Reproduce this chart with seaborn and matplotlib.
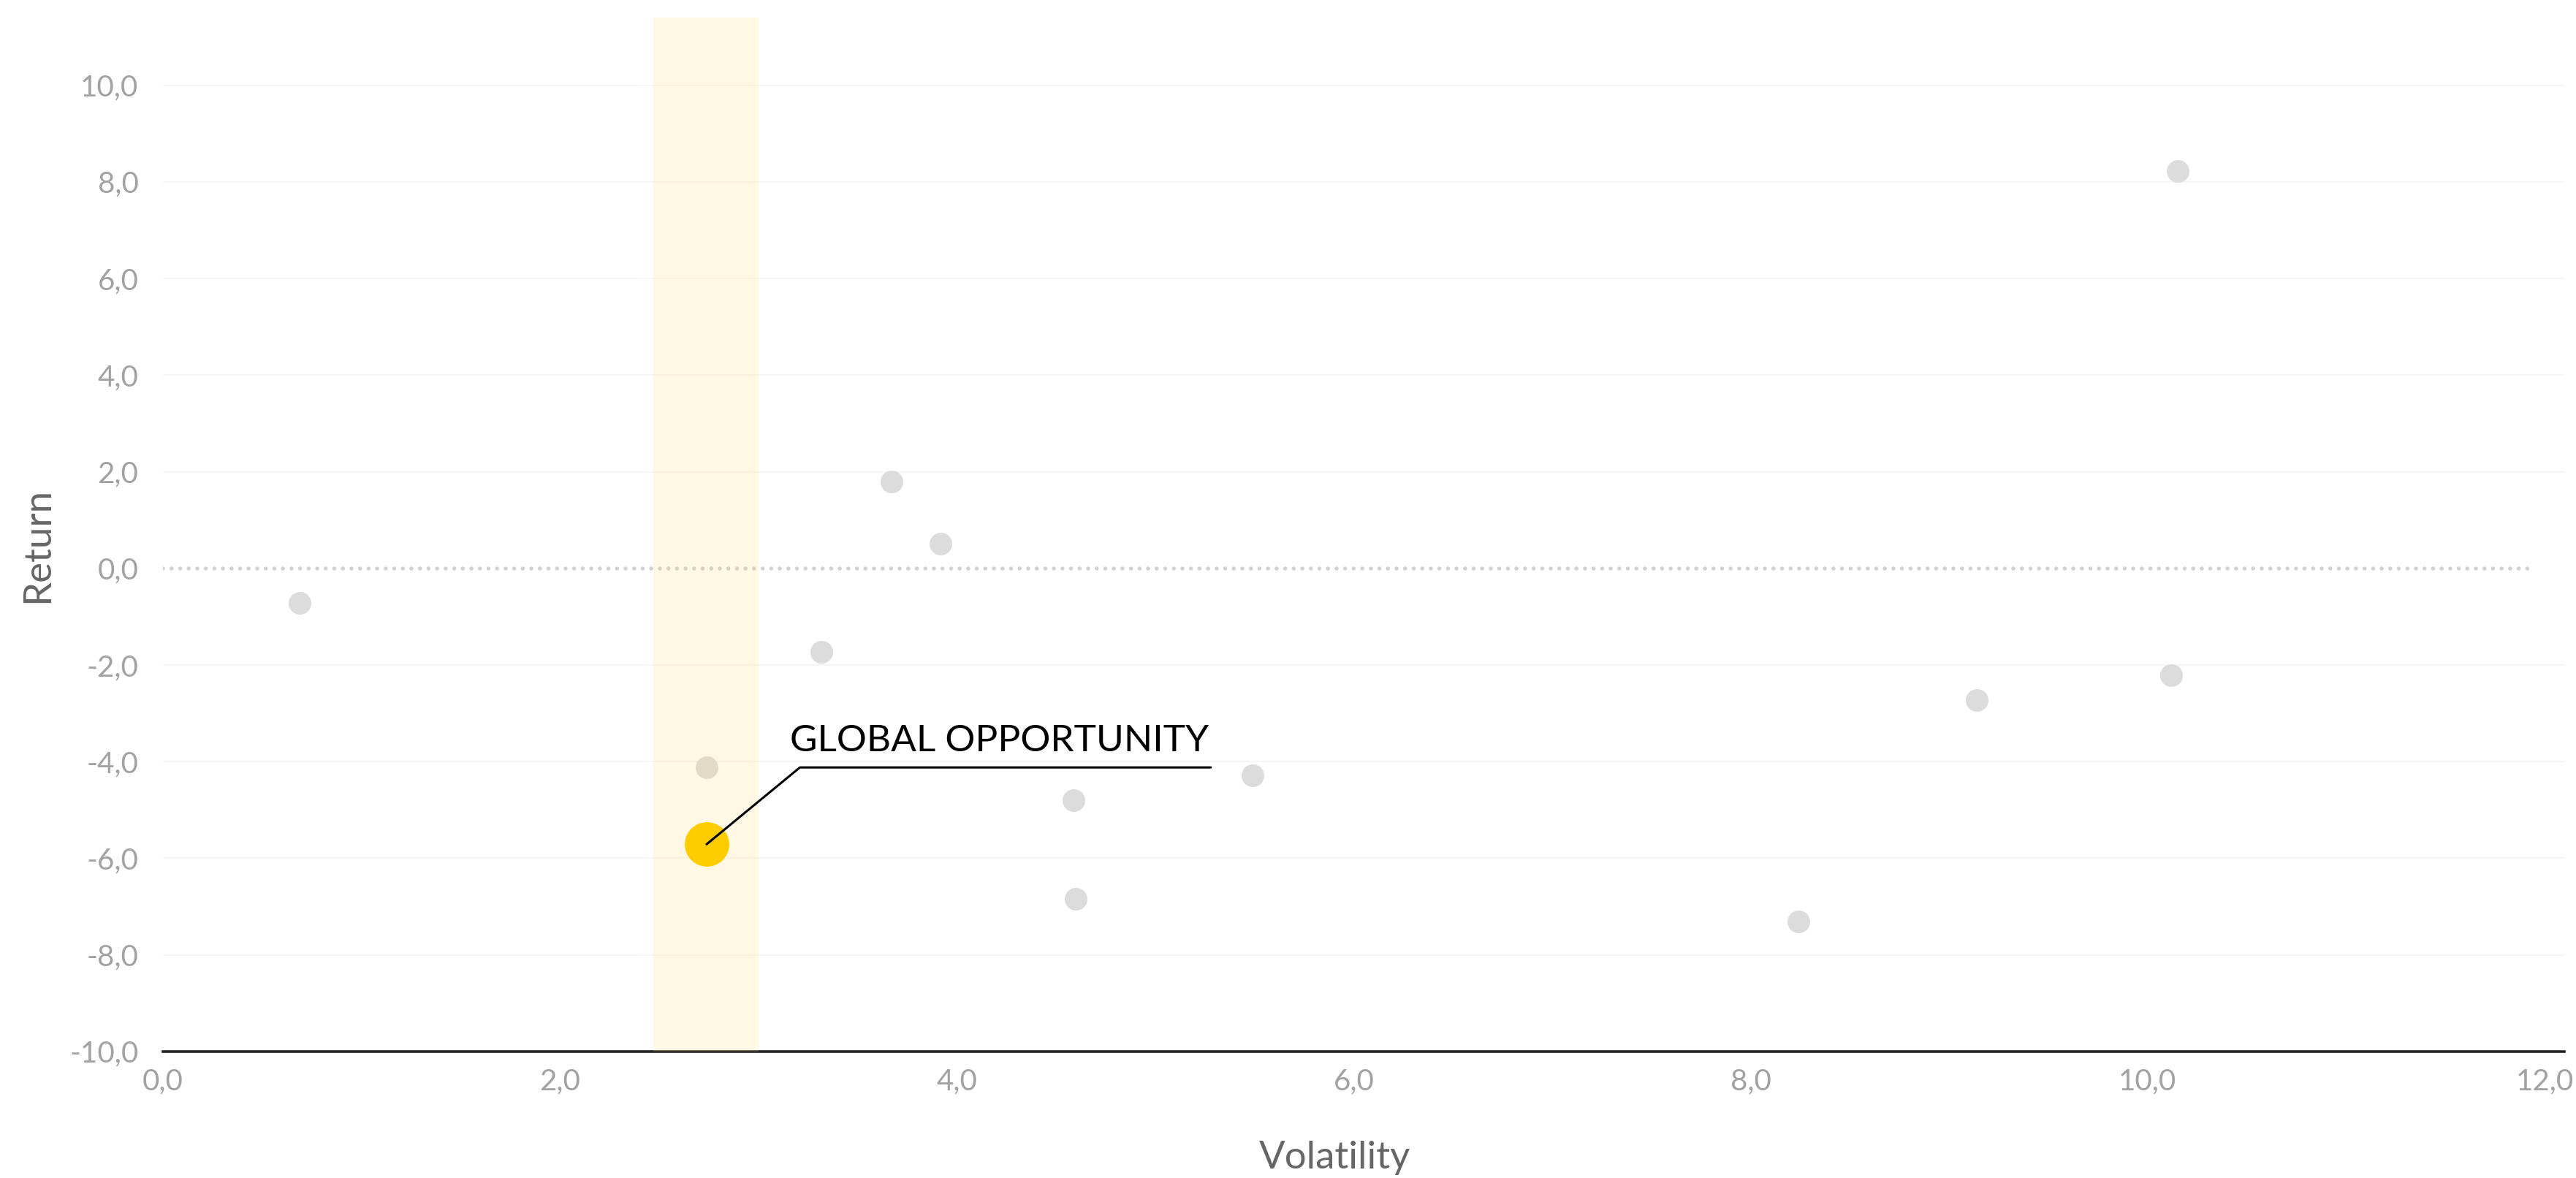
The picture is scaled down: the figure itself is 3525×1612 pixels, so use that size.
import seaborn as sns
import pandas as pd
import matplotlib.pyplot as plt
from matplotlib.ticker import FuncFormatter

# fund volatility / return values
volatility = [0.69, 2.74, 2.74, 3.32, 3.67, 3.92, 4.59, 4.60, 5.49, 8.24, 9.14, 10.12, 10.15]
returns = [-0.71, -4.12, -5.71, -1.73, 1.80, 0.51, -4.80, -6.84, -4.29, -7.31, -2.72, -2.21, 8.23]
highlight = [False, False, True, False, False, False, False, False, False, False, False, False, False]
highlight_name = "GLOBAL OPPORTUNITY"
band = (2.47, 3.0)

x_ticks = [0, 2, 4, 6, 8, 10, 12]
y_ticks = [-10, -8, -6, -4, -2, 0, 2, 4, 6, 8, 10]

df = pd.DataFrame({"Volatility": volatility, "Return": returns, "hl": highlight})

sns.set_theme(style="white")
plt.rcParams['font.family'] = ['Lato', 'DejaVu Sans']

fig = plt.figure(figsize=(17.625, 8.06), dpi=200)
ax = fig.add_axes([0.0632, 0.1074, 0.9323, 0.8776])

# background grid
for yt in y_ticks:
    if yt in (0, -10):
        continue
    ax.axhline(yt, color="#f6f6f6", lw=0.8, zorder=0)
ax.axhline(0, color="#d2d2d2", lw=2.0, ls=(0, (0.01, 2.1)), dash_capstyle="round", zorder=1,
           xmin=0, xmax=11.95 / 12.1)

sns.scatterplot(data=df[~df.hl], x="Volatility", y="Return", color="#dcdcdc",
                s=125, linewidth=0, ax=ax, zorder=2)
# band on top of the grey points (tints them)
ax.axvspan(band[0], band[1], color="#ffd54f", alpha=0.15, lw=0, zorder=3)
sns.scatterplot(data=df[df.hl], x="Volatility", y="Return", color="#ffcc00",
                s=480, linewidth=0, ax=ax, zorder=4)

# annotation for the highlighted fund
hx = df[df.hl].Volatility.iloc[0]
hy = df[df.hl].Return.iloc[0]
ex, ey = hx + 0.47, hy + 1.59
ax.plot([hx, ex, ex + 2.07], [hy, ey, ey], color="black", lw=1.1, zorder=5)
ax.text(ex - 0.05, ey + 0.2, highlight_name, fontsize=18.5, color="black",
        ha="left", va="bottom", zorder=5)

ax.set_xlim(0, 12.1)
ax.set_ylim(-10, 11.4)
ax.set_xticks(x_ticks)
ax.set_yticks(y_ticks)
fmt = FuncFormatter(lambda v, p: f"{v:.1f}".replace(".", ","))
ax.xaxis.set_major_formatter(fmt)
ax.yaxis.set_major_formatter(fmt)
ax.tick_params(axis="both", length=0, labelsize=14.5, labelcolor="#a2a2a2")
ax.tick_params(axis="y", pad=12)
ax.tick_params(axis="x", pad=8)

for s in ["top", "right", "left"]:
    ax.spines[s].set_visible(False)
ax.spines["bottom"].set_color("#222222")
ax.spines["bottom"].set_linewidth(1.3)

ax.set_xlabel("Volatility", fontsize=19, color="#666666")
ax.set_ylabel("Return", fontsize=19, color="#666666")
ax.xaxis.set_label_coords(0.488, -0.086)
ax.yaxis.set_label_coords(-0.045, 0.49)

fig.savefig("out.png", dpi=200, facecolor="white")
